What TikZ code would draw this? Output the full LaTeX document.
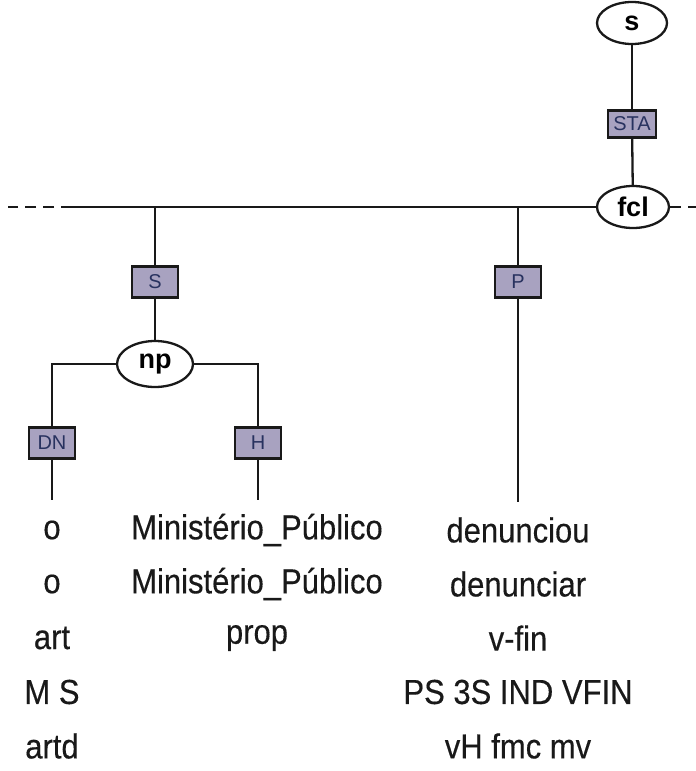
\documentclass[tikz,border=0pt]{standalone}
\usepackage{fontspec}
\setmainfont{Liberation Sans}
\newfontfamily\wordfont[FakeBold=0.35]{Liberation Sans}
\usetikzlibrary{shapes.geometric}
\definecolor{boxfill}{RGB}{168,162,192}
\definecolor{boxtext}{RGB}{40,50,95}
\definecolor{ink}{RGB}{25,25,25}
\newcommand{\tall}[1]{\scalebox{1}[1.12]{#1}}
\tikzset{
  cat/.style={ellipse, draw=ink, line width=2.3pt, fill=white, inner sep=0pt,
    minimum width=72pt, minimum height=42pt,
    font=\fontsize{27}{29}\selectfont\bfseries},
  fn/.style={rectangle, draw=ink, line width=2.3pt, fill=boxfill, text=boxtext,
    inner sep=1pt, minimum width=46pt, minimum height=31pt,
    font=\fontsize{20}{22}\selectfont},
  word/.style={inner sep=0pt, text=ink, font=\wordfont\fontsize{31}{33}\selectfont},
  link/.style={draw=ink, line width=2.3pt},
  extend/.style={link, dash pattern=on 11pt off 7pt}
}
\begin{document}
\begin{tikzpicture}[x=1pt, y=-1pt]
\useasboundingbox (0,0) rectangle (696,771);

% clause level
\node[cat, minimum width=70pt, minimum height=42pt] (s) at (632,23) {s};
\node[fn, minimum width=48pt, minimum height=27pt] (sta) at (632,124) {STA};
\node[cat, minimum width=72pt, minimum height=42pt] (fcl) at (633,207) {fcl};

\coordinate (lsolid) at (72,207);
\coordinate (lend) at (8,207);
\coordinate (rend) at (696,207);
\coordinate (jS) at (155,207);
\coordinate (jP) at (518,207);

\draw[link] (s) -- (sta);
\draw[link] (sta) -- (fcl);
\draw[link] (fcl.west) -- (lsolid);
\draw[extend] (lsolid) -- (lend);
\draw[extend] (fcl.east) -- (rend);

% subject
\node[fn] (subj) at (155,282) {S};
\node[cat, minimum width=76pt, minimum height=46pt] (np) at (155,364) {np};
\node[fn] (dn) at (52,443) {DN};
\node[fn] (head) at (258,443) {H};
\coordinate (dnend) at (52,500);
\coordinate (headend) at (258,500);

\draw[link] (jS) -- (subj);
\draw[link] (subj) -- (np);
\draw[link] (np.west) -| (dn);
\draw[link] (np.east) -| (head);
\draw[link] (dn) -- (dnend);
\draw[link] (head) -- (headend);

% predicate
\node[fn] (pred) at (518,282) {P};
\coordinate (predend) at (518,502);
\draw[link] (jP) -- (pred);
\draw[link] (pred) -- (predend);

% word columns
\foreach \t [count=\i] in {o,o,art,M S,artd}
  \node[word] (a\i) at (52,476+54*\i) {\tall{\t}};
\foreach \t [count=\i] in {Ministério\_Público,Ministério\_Público,prop}
  \node[word] (b\i) at (257,476+54*\i) {\tall{\t}};
\foreach \t [count=\i] in {denunciou,denunciar,v-fin,PS 3S IND VFIN,vH fmc mv}
  \node[word] (c\i) at (518,476+54*\i) {\tall{\t}};
\end{tikzpicture}
\end{document}
